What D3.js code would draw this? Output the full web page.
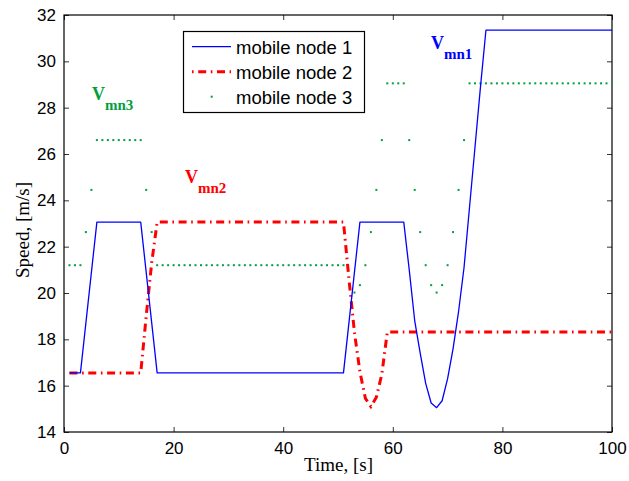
<!DOCTYPE html>
<html>
<head>
<meta charset="utf-8">
<script src="https://cdn.jsdelivr.net/npm/d3@7"></script>
<style>
  html, body { margin: 0; padding: 0; background: #fff; }
  svg { display: block; }
</style>
</head>
<body>
<svg id="chart" width="629" height="481"></svg>
<script>
// Speed profiles of three mobile nodes over time

// mobile node 1 (solid blue)
const node1Time  = [1, 3, 6, 14, 17, 51, 54, 62, 63, 64, 65, 66, 67, 68, 69, 70, 71, 72, 73, 74, 75, 76, 77, 100];
const node1Speed = [16.55, 16.55, 23.06, 23.06, 16.55, 16.55, 23.06, 23.06, 21.0, 18.8, 17.4, 16.1, 15.25, 15.05, 15.35, 16.3, 17.6, 19.2, 21.1, 23.7, 26.3, 28.9, 31.35, 31.35];

// mobile node 2 (dash-dot red)
const node2Time  = [1, 14, 15, 16, 17, 51, 52, 53, 54, 55, 56, 57, 58, 59, 100];
const node2Speed = [16.55, 16.55, 19.0, 21.3, 23.06, 23.06, 20.6, 18.3, 16.6, 15.45, 15.1, 15.5, 16.5, 18.32, 18.32];

// mobile node 3 (green dots), one sample per second from t = 1 to t = 100
const node3Speed = [
  21.2, 21.2, 21.2, 22.63, 24.45, 26.6, 26.6, 26.6, 26.6, 26.6,   // 1-10
  26.6, 26.6, 26.6, 26.6, 24.45, 22.63, 21.2, 21.2, 21.2, 21.2,  // 11-20
  21.2, 21.2, 21.2, 21.2, 21.2, 21.2, 21.2, 21.2, 21.2, 21.2,    // 21-30
  21.2, 21.2, 21.2, 21.2, 21.2, 21.2, 21.2, 21.2, 21.2, 21.2,    // 31-40
  21.2, 21.2, 21.2, 21.2, 21.2, 21.2, 21.2, 21.2, 21.2, 21.2,    // 41-50
  21.2, 20.34, 20.02, 20.34, 21.2, 22.63, 24.45, 26.6, 29.05, 29.05, // 51-60
  29.05, 29.05, 26.6, 24.45, 22.63, 21.2, 20.34, 20.02, 20.34, 21.2, // 61-70
  22.63, 24.45, 26.6, 29.05, 29.05, 29.05, 29.05, 29.05, 29.05, 29.05, // 71-80
  29.05, 29.05, 29.05, 29.05, 29.05, 29.05, 29.05, 29.05, 29.05, 29.05, // 81-90
  29.05, 29.05, 29.05, 29.05, 29.05, 29.05, 29.05, 29.05, 29.05, 29.05  // 91-100
];
const node3Time = d3.range(1, 101);

const xTicks = [0, 20, 40, 60, 80, 100];
const yTicks = [14, 16, 18, 20, 22, 24, 26, 28, 30, 32];
const legendLabels = ["mobile node 1", "mobile node 2", "mobile node 3"];

const BLUE = "#0000ff", RED = "#ff0000", GREEN = "#00a03c";

const svg = d3.select("#chart");
const plot = { left: 64, right: 612, top: 15, bottom: 432 };

const x = d3.scaleLinear().domain([0, 100]).range([plot.left, plot.right]);
const y = d3.scaleLinear().domain([14, 32]).range([plot.bottom, plot.top]);

const tickFont = "Liberation Sans, Arial, Helvetica, sans-serif";
const serif = "Liberation Serif, Times New Roman, Times, serif";

// axes with inward ticks on all four sides
function styleAxis(g) {
  g.select(".domain").remove();
  g.selectAll(".tick line").attr("stroke", "#333").attr("stroke-width", 1);
  g.selectAll(".tick text").attr("font-family", tickFont).attr("font-size", 17).attr("fill", "#000");
}

svg.append("g")
  .attr("transform", `translate(0,${plot.bottom})`)
  .call(d3.axisBottom(x).tickValues(xTicks).tickSizeInner(-5).tickSizeOuter(0).tickPadding(10))
  .call(styleAxis);

svg.append("g")
  .attr("transform", `translate(0,${plot.top})`)
  .call(d3.axisTop(x).tickValues(xTicks).tickSizeInner(-5).tickSizeOuter(0).tickFormat(""))
  .call(styleAxis);

svg.append("g")
  .attr("transform", `translate(${plot.left},0)`)
  .call(d3.axisLeft(y).tickValues(yTicks).tickSizeInner(-5).tickSizeOuter(0).tickPadding(8))
  .call(styleAxis);

svg.append("g")
  .attr("transform", `translate(${plot.right},0)`)
  .call(d3.axisRight(y).tickValues(yTicks).tickSizeInner(-5).tickSizeOuter(0).tickFormat(""))
  .call(styleAxis);

// plot frame
svg.append("rect")
  .attr("x", plot.left).attr("y", plot.top)
  .attr("width", plot.right - plot.left).attr("height", plot.bottom - plot.top)
  .attr("fill", "none").attr("stroke", "#000").attr("stroke-width", 1.2);

const line = d3.line().x(d => x(d[0])).y(d => y(d[1]));

// node 3 dots
svg.append("g").selectAll("rect")
  .data(d3.zip(node3Time, node3Speed))
  .join("rect")
  .attr("x", d => x(d[0]) - 1).attr("y", d => y(d[1]) - 1)
  .attr("width", 2).attr("height", 2)
  .attr("fill", GREEN);

// node 2 dash-dot line
svg.append("path")
  .datum(d3.zip(node2Time, node2Speed))
  .attr("d", line)
  .attr("fill", "none").attr("stroke", RED).attr("stroke-width", 3)
  .attr("stroke-dasharray", "8,4.6,1.6,4.6");

// node 1 solid line
svg.append("path")
  .datum(d3.zip(node1Time, node1Speed))
  .attr("d", line)
  .attr("fill", "none").attr("stroke", BLUE).attr("stroke-width", 1.3)
  .attr("stroke-linejoin", "round");

// series annotations V_mn1, V_mn2, V_mn3
function vLabel(px, py, sub, color) {
  const t = svg.append("text")
    .attr("x", px).attr("y", py)
    .attr("font-family", serif).attr("font-weight", "bold").attr("fill", color);
  t.append("tspan").attr("font-size", 18).text("V");
  t.append("tspan").attr("font-size", 15).attr("dy", 10).text(sub);
}
vLabel(431, 48.5, "mn1", BLUE);
vLabel(185, 183, "mn2", RED);
vLabel(92, 99.5, "mn3", GREEN);

// legend
const lg = svg.append("g");
lg.append("rect")
  .attr("x", 183.5).attr("y", 31.5).attr("width", 181).attr("height", 81)
  .attr("fill", "#fff").attr("stroke", "#000").attr("stroke-width", 1.2);
const rowY = [46.7, 71.7, 96.7];
lg.append("line").attr("x1", 192).attr("x2", 231).attr("y1", rowY[0]).attr("y2", rowY[0])
  .attr("stroke", BLUE).attr("stroke-width", 1.3);
lg.append("line").attr("x1", 192).attr("x2", 231).attr("y1", rowY[1]).attr("y2", rowY[1])
  .attr("stroke", RED).attr("stroke-width", 3).attr("stroke-dasharray", "1.6,4.6,8,4.6");
lg.append("rect").attr("x", 210.7).attr("y", rowY[2] - 1).attr("width", 2).attr("height", 2)
  .attr("fill", GREEN);
lg.selectAll("text.lab")
  .data(legendLabels)
  .join("text")
  .attr("class", "lab")
  .attr("x", 236).attr("y", (d, i) => rowY[i] + 7)
  .attr("font-family", tickFont).attr("font-size", 18.5).attr("fill", "#000")
  .text(d => d);

// axis titles
svg.append("text")
  .attr("x", 338.5).attr("y", 471)
  .attr("text-anchor", "middle")
  .attr("font-family", serif).attr("font-size", 19).attr("fill", "#000")
  .text("Time, [s]");

svg.append("text")
  .attr("transform", "translate(29,230) rotate(-90)")
  .attr("text-anchor", "middle")
  .attr("font-family", serif).attr("font-size", 19).attr("fill", "#000")
  .text("Speed, [m/s]");
</script>
</body>
</html>
